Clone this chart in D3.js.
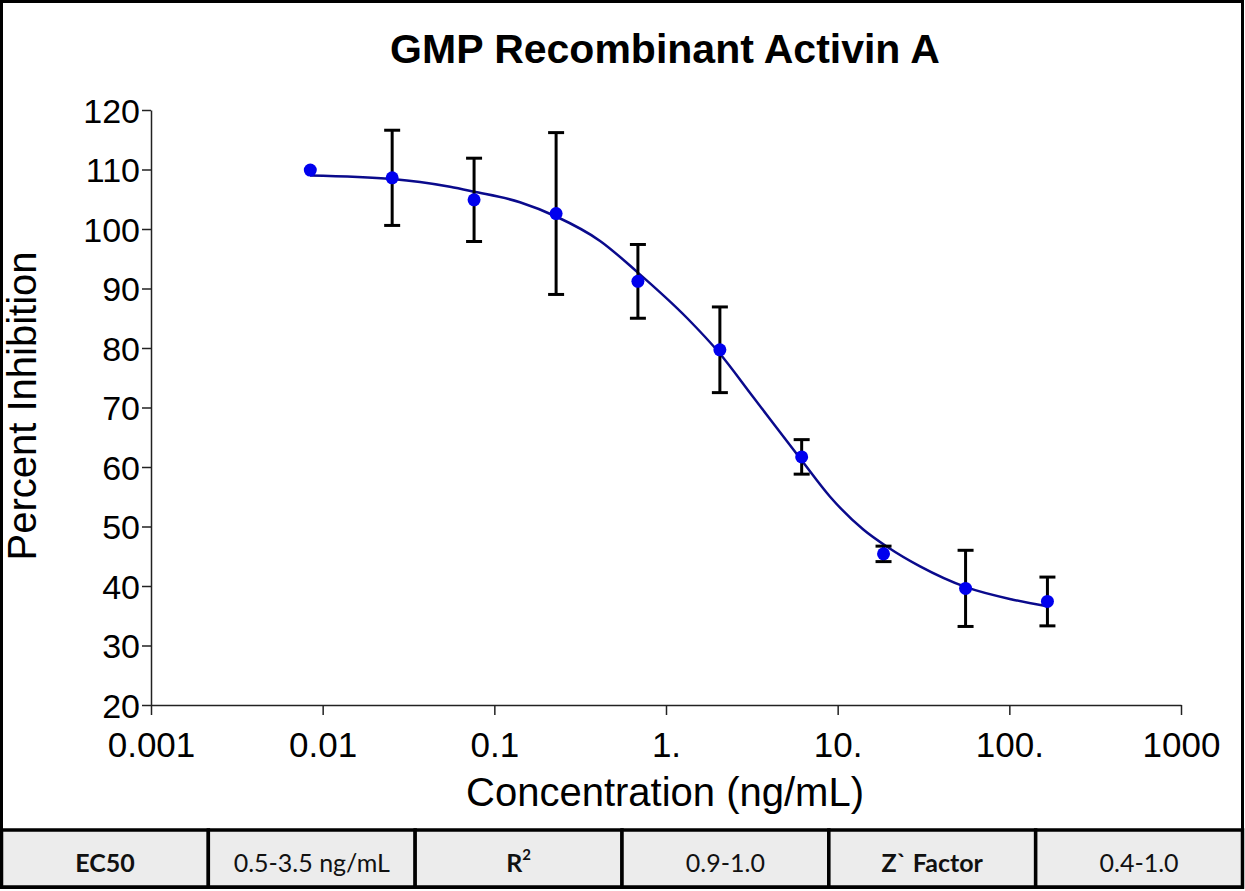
<!DOCTYPE html>
<html>
<head>
<meta charset="utf-8">
<script src="https://cdn.jsdelivr.net/npm/d3@7"></script>
<style>
  body { margin: 0; background: #fff; }
  svg { display: block; }
</style>
</head>
<body>
<div id="vis"></div>
<script>
// measured points (ng/mL, % inhibition, +/- error)
var conc = [0.00847, 0.0254, 0.0762, 0.229, 0.686, 2.06, 6.17, 18.5, 55.6, 166.7];
var meanVals = [109.9, 108.6, 104.9, 102.6, 91.2, 79.7, 61.7, 45.4, 39.6, 37.4];
var errVals = [0, 8.0, 7.0, 13.6, 6.2, 7.2, 2.9, 1.3, 6.4, 4.1];

// fitted curve
var fitConc = [0.00844, 0.0254, 0.0369, 0.0552, 0.0752, 0.141, 0.229, 0.413, 0.678, 1.33,
               2.04, 3.21, 6.21, 9.03, 14.1, 19.4, 30.2, 56.0, 105, 166];
var fitVals = [109.0, 108.4, 107.9, 107.1, 106.3, 104.5, 102.1, 98.0, 92.8, 85.0,
               79.2, 71.8, 61.0, 55.0, 49.5, 46.6, 43.3, 39.8, 37.7, 36.6];

// axis ticks
var xTicks = [0.001, 0.01, 0.1, 1, 10, 100, 1000];
var xTickLabels = ['0.001', '0.01', '0.1', '1.', '10.', '100.', '1000'];
var yTicks = [20, 30, 40, 50, 60, 70, 80, 90, 100, 110, 120];

// summary table
var tableCells = ['EC50', '0.5-3.5 ng/mL', 'R', '0.9-1.0', 'Z` Factor', '0.4-1.0'];
var tableBold = [true, false, true, false, true, false];

var width = 1245;
var height = 891;

var svg = d3.select('#vis').append('svg')
    .attr('width', width)
    .attr('height', height);

svg.append('rect')
    .attr('width', width)
    .attr('height', height)
    .attr('fill', '#fff');

var x = d3.scaleLog()
    .domain([0.001, 1000])
    .range([151, 1181]);

var y = d3.scaleLinear()
    .domain([20, 120])
    .range([705, 110]);

// outer frame
svg.append('rect')
    .attr('x', 1.5)
    .attr('y', 1.5)
    .attr('width', 1241)
    .attr('height', 886)
    .attr('fill', 'none')
    .attr('stroke', '#000')
    .attr('stroke-width', 3);

// title
svg.append('text')
    .attr('x', 665)
    .attr('y', 63)
    .attr('text-anchor', 'middle')
    .attr('font-family', 'Liberation Sans, Arial, sans-serif')
    .attr('font-weight', 'bold')
    .style('font-size', '41px')
    .text('GMP Recombinant Activin A');

// axes
var xAxis = d3.axisBottom(x)
    .tickValues(xTicks)
    .tickFormat(function (d, i) { return xTickLabels[i]; })
    .tickSizeInner(10)
    .tickSizeOuter(0);

var yAxis = d3.axisLeft(y)
    .tickValues(yTicks)
    .tickSizeInner(9)
    .tickSizeOuter(0);

var gx = svg.append('g')
    .attr('transform', 'translate(0,' + y(20) + ')')
    .call(xAxis);

var gy = svg.append('g')
    .attr('transform', 'translate(' + x(0.001) + ',0)')
    .call(yAxis);

[gx, gy].forEach(function (g) {
  g.selectAll('path, line')
      .attr('stroke', '#222')
      .attr('stroke-width', 1.5);
  g.selectAll('text')
      .attr('fill', '#000')
      .attr('font-family', 'Liberation Sans, Arial, sans-serif')
      .style('font-size', '34px');
});

gx.selectAll('text')
    .attr('y', 52)
    .attr('dy', null)
    .style('font-size', '35px');

gy.selectAll('text')
    .attr('x', -11)
    .attr('dy', '0.36em');

// axis titles
svg.append('text')
    .attr('transform', 'translate(36,406) rotate(-90)')
    .attr('text-anchor', 'middle')
    .attr('font-family', 'Liberation Sans, Arial, sans-serif')
    .style('font-size', '40px')
    .text('Percent Inhibition');

svg.append('text')
    .attr('x', 665)
    .attr('y', 806)
    .attr('text-anchor', 'middle')
    .attr('font-family', 'Liberation Sans, Arial, sans-serif')
    .style('font-size', '40px')
    .text('Concentration (ng/mL)');

// fitted curve
var fitData = fitConc.map(function (c, i) { return { c: c, v: fitVals[i] }; });

var line = d3.line()
    .x(function (d) { return x(d.c); })
    .y(function (d) { return y(d.v); })
    .curve(d3.curveMonotoneX);

svg.append('path')
    .datum(fitData)
    .attr('d', line)
    .attr('fill', 'none')
    .attr('stroke', '#0a0a8c')
    .attr('stroke-width', 2.5);

// error bars + points
var pts = conc.map(function (c, i) { return { c: c, v: meanVals[i], e: errVals[i] }; });
var withErr = pts.filter(function (d) { return d.e > 0; });

var bars = svg.append('g')
    .attr('stroke', '#000')
    .attr('stroke-width', 3);

bars.selectAll('.err').data(withErr).enter()
    .append('line')
    .attr('class', 'err')
    .attr('x1', function (d) { return x(d.c); })
    .attr('x2', function (d) { return x(d.c); })
    .attr('y1', function (d) { return y(d.v + d.e); })
    .attr('y2', function (d) { return y(d.v - d.e); });

bars.selectAll('.cap-top').data(withErr).enter()
    .append('line')
    .attr('class', 'cap-top')
    .attr('x1', function (d) { return x(d.c) - 8; })
    .attr('x2', function (d) { return x(d.c) + 8; })
    .attr('y1', function (d) { return y(d.v + d.e); })
    .attr('y2', function (d) { return y(d.v + d.e); });

bars.selectAll('.cap-bot').data(withErr).enter()
    .append('line')
    .attr('class', 'cap-bot')
    .attr('x1', function (d) { return x(d.c) - 8; })
    .attr('x2', function (d) { return x(d.c) + 8; })
    .attr('y1', function (d) { return y(d.v - d.e); })
    .attr('y2', function (d) { return y(d.v - d.e); });

svg.selectAll('.dot').data(pts).enter()
    .append('circle')
    .attr('class', 'dot')
    .attr('cx', function (d) { return x(d.c); })
    .attr('cy', function (d) { return y(d.v); })
    .attr('r', 6.5)
    .attr('fill', '#0000ee');

// summary table along the bottom
var colW = 1241 / tableCells.length;
var tableTop = 830;
var tableBottom = 887;

var cells = svg.append('g').selectAll('.cell').data(tableCells).enter()
    .append('g')
    .attr('class', 'cell')
    .attr('transform', function (d, i) { return 'translate(' + (1.5 + i * colW) + ',0)'; });

cells.append('rect')
    .attr('y', tableTop)
    .attr('width', colW)
    .attr('height', tableBottom - tableTop)
    .attr('fill', '#ececec')
    .attr('stroke', '#000')
    .attr('stroke-width', 3.5);

var labels = cells.append('text')
    .attr('x', colW / 2)
    .attr('y', 872)
    .attr('text-anchor', 'middle')
    .attr('font-family', 'Lato, Carlito, sans-serif')
    .attr('font-weight', function (d, i) { return tableBold[i] ? 'bold' : 'normal'; })
    .style('font-size', '25px')
    .attr('fill', '#111')
    .text(function (d) { return d; });

// superscript on R
labels.filter(function (d) { return d === 'R'; })
    .append('tspan')
    .attr('dy', -12)
    .style('font-size', '15px')
    .text('2');
</script>
</body>
</html>
